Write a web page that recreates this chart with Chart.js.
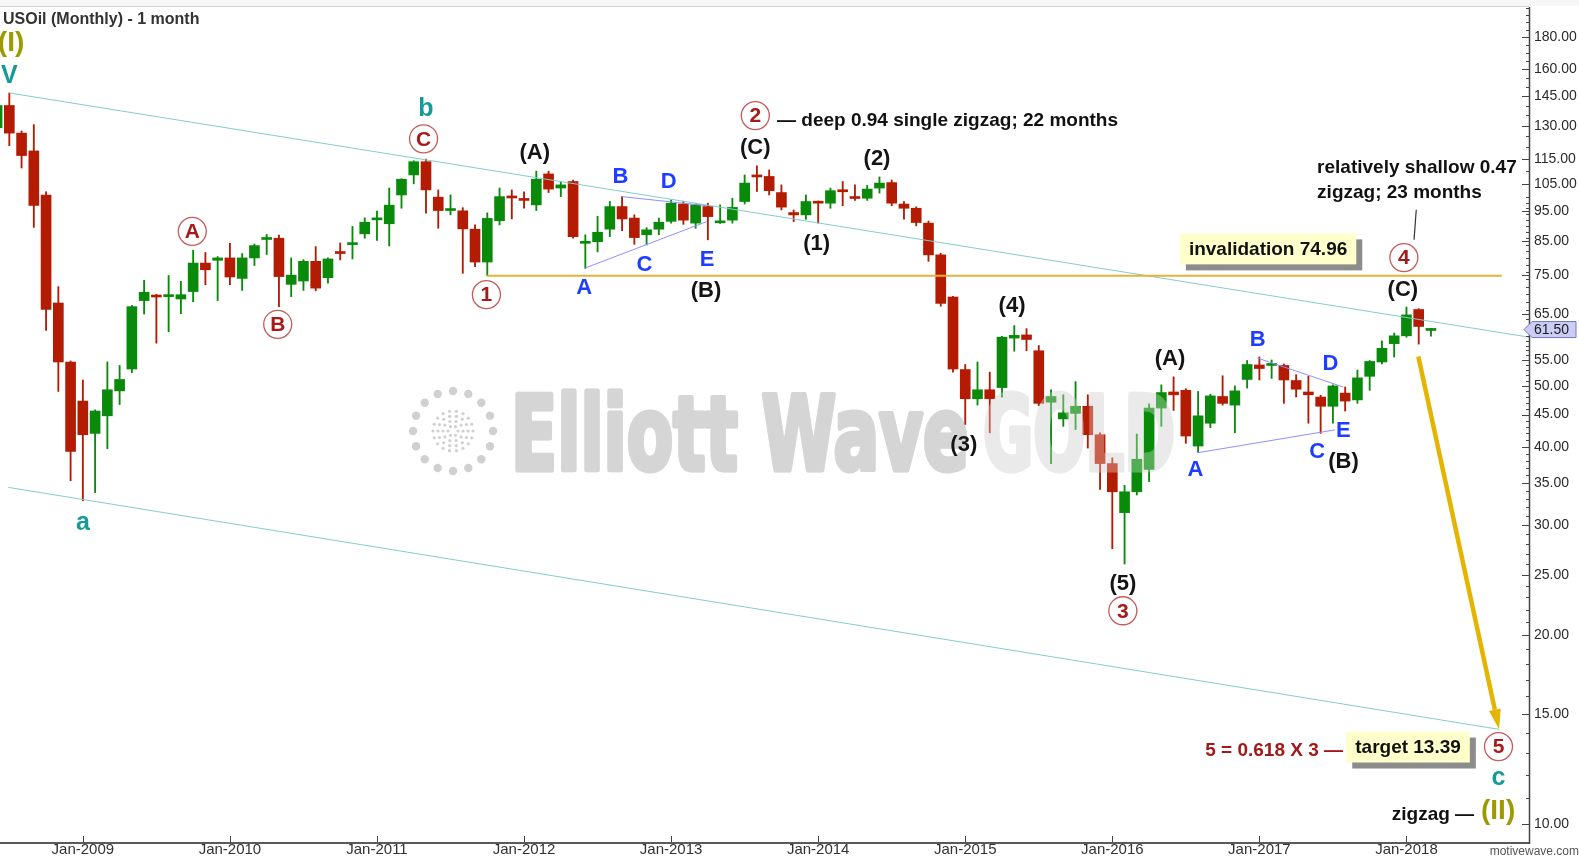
<!DOCTYPE html>
<html>
<head>
<meta charset="utf-8">
<script src="https://cdn.jsdelivr.net/npm/chart.js"></script>
<style>
html,body{margin:0;padding:0;background:#fff;overflow:hidden}
canvas{display:block}
</style>
</head>
<body>
<canvas id="c" width="1579" height="859"></canvas>
<script>
// ---------------- DATA ----------------
// month index = months since Jan 2008 ; first candle = Jun 2008
const firstMonth = 5;
const opens = [
  129,140,126.5,118.5,100.8,67.8,54.6,
  47.3,42,44.8,49.1,53.2,68.4,69.7,69.4,68.8,70.7,78.5,79.3,
  80.0,74.2,80.0,85.6,86,72.6,73.5,79,74.4,81.7,84,87.4,
  92,90.7,100.8,108.5,113.9,100,95.2,95.1,88.9,78.8,91.7,100.3,
  99.4,97.2,108.9,103.4,105.9,84.4,84.9,88.9,96.6,92.6,87.1,88.9,
  91.5,97.5,90.9,96.6,91,91.9,98.4,108.2,107.9,101.7,94.5,93.7,
  98.4,97.8,102.4,99.9,99.6,103.4,105.5,97.5,96,90.9,80.9,69.3,
  53.1,47.7,49.3,49.7,59.6,60.3,56.9,47.1,44.3,45.2,46.4,41.8,
  37.6,31.4,33.9,36.8,46.1,48.9,49.2,40.1,43.6,48.1,46.6,51.2,
  54,53.9,53.9,51,48.9,48,46.4,48.7,47.5,51.8,54.6,58.4,
  60.1,66.2,61.3
];
const highs = [
  141,146.6,127.5,130.5,102,72,54.8,
  51.1,45.8,54.6,53.9,67.2,73.7,70,75,73.4,82.3,81.6,80.4,
  84.4,81.3,84.2,87.2,87,80,79.5,83.4,80,84.5,89.8,92.7,
  95,103.4,107,114.3,115,102.7,100.8,96.2,90.3,94.4,103.4,102.7,
  102,110,110,105.6,106.5,87.1,93.2,98.4,100.2,93.7,89.4,92.6,
  99,98.5,97.6,97.8,97.2,99.6,108.5,112.2,110.5,104.6,95.4,100.8,
  98.6,103.4,105.9,104.6,104.4,107.7,106.5,98.4,96.5,91.6,81.4,69.5,
  54.1,54.6,52.6,60,62.4,61.7,58,49.3,48.4,50.8,48.4,42.1,
  38.4,34.7,41.9,46.8,50.2,51.7,49.5,49,48.5,51.9,50,54.9,
  55.6,55,54.2,52.1,51.8,48.3,50.2,49.8,53,54.9,59,60.7,
  66.8,66.4,61.7
];
const lows = [
  126,120.8,111.3,89.5,61.3,49,35.3,
  32.8,33.8,39.7,46.7,52.5,65.1,58.5,61,65.2,68.1,72.5,68.4,
  72.5,71,77.8,81,66.9,69.4,71,70.9,72.9,79.4,79.7,86,
  85.3,83.6,96,105,94.3,89.2,93.7,75.6,77.5,74.96,90.3,92.3,
  96,95.2,101.7,100.2,86,77,81.8,86.5,88.4,84.1,83.9,87.1,
  90.9,90.5,89.2,85.5,90.8,90.9,97.5,102.1,100.8,95.4,91.4,92.2,
  90.9,96,96.9,98.8,98.8,101.5,96.9,92.2,90,79,67,52.6,
  43.4,46.6,42.1,48,56.8,56.9,46.5,37.6,43.1,42.6,39.8,34.2,
  27.5,26,33.5,35.2,43.1,45.7,40.5,39.2,42.9,46.6,42.1,49.6,
  51.1,51.4,46.9,48,43.6,42,43.6,45.6,46.9,49.2,54.2,55.6,
  59.8,58.3,60
];
const closes = [
  140,126.5,116.5,97,66.2,54.6,39.3,
  41.8,45.6,49.3,51.2,66.9,70.5,69.3,69.9,69.9,78.5,76.6,80,
  74.6,80,83.7,86.2,74.7,75.1,79,71.6,79.7,81.3,84.5,91.2,
  92.5,97.1,106.8,113.9,102.7,95.2,95.7,89,78.8,92.5,100.2,99.7,
  98.8,106.8,103,104.6,86.5,84.8,87.9,96.6,92.3,86.2,88.7,91.2,
  97.8,91.9,97.2,93.1,91.4,96.3,105.3,107.7,102.4,96.4,93.7,98.4,
  97.8,102.4,102,99.5,103,105.3,97.8,96,91.1,80.9,67.7,53.2,
  47.7,49.3,47.7,59.8,60.2,59.3,46.9,48.1,45.3,46.4,41.8,37.6,
  33.9,33.9,38.2,46.1,48.8,48.4,41.6,44.8,48.2,46.9,49.1,54.1,
  53.3,54.3,51.1,49.4,48.4,46.4,50,47.3,51.5,54.7,57.4,60.1,
  64.9,62.2,61.5
];
const lastPrice = 61.50;
const yTickValues = [10,15,20,25,30,35,40,45,50,55,65,75,85,95,105,115,130,145,160,180];
const xTickMonths = [12,24,36,48,60,72,84,96,108,120];
const xTickLabels = ['Jan-2009','Jan-2010','Jan-2011','Jan-2012','Jan-2013','Jan-2014','Jan-2015','Jan-2016','Jan-2017','Jan-2018'];

// ---------------- ANNOTATIONS (month index, price) ----------------
const waveLabels = [
  ['(I)', 6.14, 176, 'olive'],
  ['V', 6.0, 156, 'teal'],
  ['a', 12, 30.2, 'teal'],
  ['A', 20.93, 88.2, 'circ'],
  ['B', 27.9, 62.7, 'circ'],
  ['b', 40.0, 138.4, 'teal'],
  ['C', 39.8, 123.9, 'circ'],
  ['(A)', 48.87, 117.7, 'wave'],
  ['1', 44.93, 69.9, 'circ'],
  ['B', 55.86, 107.6, 'blue'],
  ['D', 59.8, 105.7, 'blue'],
  ['A', 52.9, 71.7, 'blue'],
  ['C', 57.83, 78, 'blue'],
  ['E', 62.93, 79.5, 'blue'],
  ['(B)', 62.85, 70.9, 'wave'],
  ['(C)', 66.87, 119.8, 'wave'],
  ['2', 66.87, 134.9, 'circ'],
  ['(2)', 76.8, 115.1, 'wave'],
  ['(1)', 71.88, 84.3, 'wave'],
  ['(3)', 83.88, 40.3, 'wave'],
  ['(4)', 87.82, 67.1, 'wave'],
  ['(5)', 96.86, 24.2, 'wave'],
  ['3', 96.86, 21.9, 'circ'],
  ['(A)', 100.71, 55.3, 'wave'],
  ['A', 102.78, 36.7, 'blue'],
  ['B', 107.87, 59.3, 'blue'],
  ['D', 113.8, 54.3, 'blue'],
  ['C', 112.72, 39.3, 'blue'],
  ['E', 114.86, 42.4, 'blue'],
  ['(B)', 114.86, 37.8, 'wave'],
  ['(C)', 119.71, 71.1, 'wave'],
  ['4', 119.79, 80.1, 'circ'],
  ['5', 127.51, 13.3, 'circ'],
  ['c', 127.51, 11.84, 'teal'],
  ['(II)', 127.48, 10.5, 'olive']
];
const comments = [
  ['— deep 0.94 single zigzag; 22 months', 68.64, 132.4, 'left', 'note'],
  ['relatively shallow 0.47', 112.71, 111.4, 'left', 'note'],
  ['zigzag; 23 months', 112.71, 101.6, 'left', 'note'],
  ['zigzag —', 125.52, 10.35, 'right', 'note'],
  ['5 = 0.618 X 3 —', 114.83, 13.09, 'right', 'red']
];
const boxes = [
  ['invalidation 74.96', 108.71, 82.7],
  ['target 13.39', 120.13, 13.28]
];
const channelUpper = [[6.0, 146.6], [130.0, 59.8]];
const channelLower = [[5.92, 34.45], [127.56, 14.17]];
const invalidationLine = [[45, 74.96], [127.77, 74.96]];
const triangleLines = [
  [[52.92, 77], [62.9, 91.4]],
  [[55.97, 100.2], [62.9, 96.9]],
  [[102.89, 39.1], [114.17, 42.55]],
  [[107.83, 55.4], [114.85, 49.8]]
];
const leaderLine = [[120.8, 95.5], [120.62, 85.5]];
const targetArrow = [[120.97, 55.7], [127.56, 14.17]];

// ---------------- STYLE ----------------
const FONT = '"Liberation Sans", Arial, Helvetica, sans-serif';
const UP = '#0a8a0a', DN = '#b31c02';
const months = opens.map((_, i) => firstMonth + i);
const isUp = i => closes[i] >= opens[i];

function line(ctx, xs, ys, pts, color, width) {
  ctx.save();
  ctx.strokeStyle = color; ctx.lineWidth = width;
  ctx.beginPath();
  pts.forEach((p, k) => {
    const x = xs.getPixelForValue(p[0]), y = ys.getPixelForValue(p[1]);
    if (k === 0) ctx.moveTo(x, y); else ctx.lineTo(x, y);
  });
  ctx.stroke();
  ctx.restore();
}

function drawWatermark(ctx, cText, cGold, cDots) {
  ctx.save();
  ctx.textBaseline = 'alphabetic'; ctx.textAlign = 'left';
  ctx.font = 'bold 104px "DejaVu Sans Condensed", "DejaVu Sans", sans-serif';
  ctx.lineJoin = 'round';
  const w1 = ctx.measureText('Elliott Wave').width;
  ctx.save(); ctx.translate(511, 470); ctx.scale(458 / w1, 1);
  ctx.fillStyle = cText; ctx.strokeStyle = cText; ctx.lineWidth = 5;
  ctx.fillText('Elliott Wave', 0, 0); ctx.strokeText('Elliott Wave', 0, 0); ctx.restore();
  const w2 = ctx.measureText('GOLD').width;
  ctx.save(); ctx.translate(983, 470); ctx.scale(192 / w2, 1);
  ctx.fillStyle = cGold; ctx.strokeStyle = cGold; ctx.lineWidth = 5;
  ctx.fillText('GOLD', 0, 0); ctx.strokeText('GOLD', 0, 0); ctx.restore();
  if (cDots) {
    const cx = 453, cy = 431;
    ctx.fillStyle = cDots;
    for (let k = 0; k < 16; k++) {
      const a = k * Math.PI * 2 / 16;
      ctx.beginPath(); ctx.arc(cx + 40 * Math.cos(a), cy + 40 * Math.sin(a), 4.2, 0, Math.PI * 2); ctx.fill();
    }
    [[5, 6], [10, 10], [15, 14], [20, 18]].forEach(([r, n]) => {
      for (let k = 0; k < n; k++) {
        const a = k * Math.PI * 2 / n;
        ctx.beginPath(); ctx.arc(cx + r * Math.cos(a), cy + r * Math.sin(a), 1.6, 0, Math.PI * 2); ctx.fill();
      }
    });
  }
  ctx.restore();
}

// offscreen white mask of the watermark, composited over the candles
const wmMask = document.createElement('canvas');
wmMask.width = 1579; wmMask.height = 859;
drawWatermark(wmMask.getContext('2d'), '#ffffff', '#ffffff', null);

const overlay = {
  id: 'overlay',
  beforeDraw(chart) {
    const ctx = chart.ctx;
    ctx.save();
    ctx.fillStyle = '#ffffff'; ctx.fillRect(0, 0, chart.width, chart.height);
    ctx.fillStyle = '#f7f7f7'; ctx.fillRect(0, 0, chart.width, 6);
    ctx.fillStyle = '#d2d2d2'; ctx.fillRect(0, 6, chart.chartArea.right, 1);
    ctx.restore();
  },
  beforeDatasetsDraw(chart) {
    const ctx = chart.ctx, ca = chart.chartArea;
    ctx.save();
    ctx.beginPath(); ctx.rect(ca.left, ca.top, ca.right - ca.left, ca.bottom - ca.top); ctx.clip();
    drawWatermark(ctx, '#c4c4c4', '#e1e1e1', '#d0d0d0');
    ctx.restore();
  },
  afterDatasetsDraw(chart) {
    const ctx = chart.ctx, ca = chart.chartArea;
    const xs = chart.scales.x, ys = chart.scales.y;
    ctx.save();
    ctx.beginPath(); ctx.rect(ca.left, ca.top, ca.right - ca.left, ca.bottom - ca.top); ctx.clip();
    ctx.save(); ctx.globalAlpha = 0.3; ctx.drawImage(wmMask, 0, 0); ctx.restore();

    // lines
    line(ctx, xs, ys, channelUpper, '#86cccc', 1);
    line(ctx, xs, ys, channelLower, '#86cccc', 1);
    line(ctx, xs, ys, invalidationLine, '#e2b23a', 2);
    triangleLines.forEach(t => line(ctx, xs, ys, t, '#8f8fff', 1));
    line(ctx, xs, ys, leaderLine, '#333333', 1.2);

    // target arrow
    const ax1 = xs.getPixelForValue(targetArrow[0][0]), ay1 = ys.getPixelForValue(targetArrow[0][1]);
    const ax2 = xs.getPixelForValue(targetArrow[1][0]), ay2 = ys.getPixelForValue(targetArrow[1][1]);
    const ang = Math.atan2(ay2 - ay1, ax2 - ax1);
    const hl = 20, hw = 6;
    const bx = ax2 - hl * Math.cos(ang), by = ay2 - hl * Math.sin(ang);
    ctx.strokeStyle = '#e3b400'; ctx.lineWidth = 4.5;
    ctx.beginPath(); ctx.moveTo(ax1, ay1); ctx.lineTo(bx, by); ctx.stroke();
    ctx.fillStyle = '#e3b400';
    ctx.beginPath();
    ctx.moveTo(ax2, ay2);
    ctx.lineTo(bx + hw * Math.sin(ang), by - hw * Math.cos(ang));
    ctx.lineTo(bx - hw * Math.sin(ang), by + hw * Math.cos(ang));
    ctx.closePath(); ctx.fill();

    // boxes
    boxes.forEach(([s, m, p]) => {
      const cx = xs.getPixelForValue(m), cy = ys.getPixelForValue(p);
      ctx.font = 'bold 19px ' + FONT;
      const w = ctx.measureText(s).width + 18, h = 31;
      const x0 = cx - w / 2, y0 = cy - h / 2;
      ctx.fillStyle = '#8c8c8c'; ctx.fillRect(x0 + 6, y0 + 6, w, h);
      ctx.fillStyle = '#ffffcc'; ctx.fillRect(x0, y0, w, h);
      ctx.fillStyle = '#111'; ctx.textAlign = 'center'; ctx.textBaseline = 'middle';
      ctx.fillText(s, cx, cy + 1);
    });

    // comments
    comments.forEach(([s, m, p, align, kind]) => {
      ctx.font = 'bold 19px ' + FONT;
      ctx.fillStyle = kind === 'red' ? '#a31818' : '#111111';
      ctx.textAlign = align; ctx.textBaseline = 'middle';
      ctx.fillText(s, xs.getPixelForValue(m), ys.getPixelForValue(p));
    });

    // wave labels
    waveLabels.forEach(([s, m, p, kind]) => {
      const x = xs.getPixelForValue(m), y = ys.getPixelForValue(p);
      ctx.textAlign = 'center'; ctx.textBaseline = 'middle';
      if (kind === 'circ') {
        ctx.beginPath(); ctx.arc(x, y, 14, 0, Math.PI * 2);
        ctx.fillStyle = '#ffffff'; ctx.fill();
        ctx.lineWidth = 1.3; ctx.strokeStyle = '#c75a5a'; ctx.stroke();
        ctx.font = 'bold 21px ' + FONT; ctx.fillStyle = '#a61a1a';
        ctx.fillText(s, x, y + 1);
      } else if (kind === 'teal') {
        ctx.font = 'bold 25px ' + FONT; ctx.fillStyle = '#139a9a';
        ctx.fillText(s, x, y);
      } else if (kind === 'olive') {
        ctx.font = 'bold 28px ' + FONT; ctx.fillStyle = '#9d9a00';
        ctx.fillText(s, x, y);
      } else if (kind === 'blue') {
        ctx.font = 'bold 22px ' + FONT; ctx.fillStyle = '#1f3dff';
        ctx.fillText(s, x, y);
      } else {
        ctx.font = 'bold 22px ' + FONT; ctx.fillStyle = '#141414';
        ctx.fillText(s, x, y);
      }
    });
    ctx.restore();
  },
  afterDraw(chart) {
    const ctx = chart.ctx, ca = chart.chartArea;
    const xs = chart.scales.x, ys = chart.scales.y;
    ctx.save();
    // x axis
    ctx.strokeStyle = '#5a5a5a'; ctx.lineWidth = 2;
    ctx.beginPath(); ctx.moveTo(0, ca.bottom + 1); ctx.lineTo(ca.right + 1, ca.bottom + 1); ctx.stroke();
    ctx.lineWidth = 1; ctx.strokeStyle = '#444';
    xTickMonths.forEach(m => {
      const x = Math.round(xs.getPixelForValue(m)) + 0.5;
      ctx.beginPath(); ctx.moveTo(x, ca.bottom - 6); ctx.lineTo(x, ca.bottom); ctx.stroke();
    });
    // y axis
    ctx.strokeStyle = '#444'; ctx.lineWidth = 1.5;
    ctx.beginPath(); ctx.moveTo(ca.right + 0.5, ca.top); ctx.lineTo(ca.right + 0.5, ca.bottom + 2); ctx.stroke();
    ctx.lineWidth = 1;
    const minor = [];
    for (let v = 11; v < 60; v += 1) minor.push(v);
    for (let v = 60; v < 100; v += 2) minor.push(v);
    for (let v = 100; v <= 200; v += 5) minor.push(v);
    minor.forEach(v => {
      const y = Math.round(ys.getPixelForValue(v)) + 0.5;
      if (y < ca.top || y > ca.bottom) return;
      ctx.beginPath(); ctx.moveTo(ca.right - 3, y); ctx.lineTo(ca.right, y); ctx.stroke();
    });
    yTickValues.forEach(v => {
      const y = Math.round(ys.getPixelForValue(v)) + 0.5;
      ctx.beginPath(); ctx.moveTo(ca.right - 7, y); ctx.lineTo(ca.right, y); ctx.stroke();
    });
    // last price tag
    const py = ys.getPixelForValue(lastPrice);
    ctx.beginPath();
    ctx.moveTo(ca.right - 5, py);
    ctx.lineTo(ca.right + 3, py - 8);
    ctx.lineTo(1576, py - 8);
    ctx.lineTo(1576, py + 8);
    ctx.lineTo(ca.right + 3, py + 8);
    ctx.closePath();
    ctx.fillStyle = '#cbcdf5'; ctx.fill();
    ctx.strokeStyle = '#7478b8'; ctx.stroke();
    ctx.fillStyle = '#1a1a1a'; ctx.font = '14px ' + FONT;
    ctx.textAlign = 'left'; ctx.textBaseline = 'middle';
    ctx.fillText(lastPrice.toFixed(2), ca.right + 5, py + 1);
    // title
    ctx.font = 'bold 16px ' + FONT; ctx.fillStyle = '#333';
    ctx.fillText('USOil (Monthly) - 1 month', 3, 20);
    // credit
    ctx.font = '12px ' + FONT; ctx.fillStyle = '#555'; ctx.textAlign = 'right';
    ctx.fillText('motivewave.com', 1579, 852);
    ctx.restore();
  }
};

new Chart(document.getElementById('c').getContext('2d'), {
  type: 'bar',
  data: {
    datasets: [
      {
        label: 'wicks',
        data: months.map((m, i) => ({ x: m, y: [lows[i], highs[i]] })),
        backgroundColor: c => isUp(c.dataIndex) ? UP : DN,
        barThickness: 1.2, grouped: false, order: 2, borderWidth: 0
      },
      {
        label: 'bodies',
        data: months.map((m, i) => ({ x: m, y: [opens[i], closes[i]] })),
        backgroundColor: c => isUp(c.dataIndex) ? UP : DN,
        barThickness: 10, grouped: false, order: 1, borderWidth: 0, minBarLength: 2
      }
    ]
  },
  options: {
    responsive: false, animation: false, devicePixelRatio: 1,
    layout: { padding: { top: 7, left: 0, right: 0, bottom: 0 } },
    plugins: { legend: { display: false }, tooltip: { enabled: false } },
    scales: {
      x: {
        type: 'linear', min: 5.24, max: 130.0, offset: false, bounds: 'data',
        afterBuildTicks: s => { s.ticks = xTickMonths.map(v => ({ value: v })); },
        ticks: {
          autoSkip: false, maxRotation: 0, minRotation: 0, padding: -1, color: '#333',
          font: { family: FONT, size: 15 },
          callback: (v, i) => xTickLabels[i]
        },
        grid: { display: false, drawTicks: false, tickLength: 0 }, border: { display: false },
        afterFit: s => { s.height = 17; s.paddingLeft = 0; s.paddingRight = 0; }
      },
      y: {
        type: 'logarithmic', position: 'right', min: 9.37, max: 201, bounds: 'data',
        afterBuildTicks: s => { s.ticks = yTickValues.map(v => ({ value: v })); },
        ticks: {
          autoSkip: false, padding: 5, color: '#2a2a2a',
          font: { family: FONT, size: 14 },
          callback: v => Number(v).toFixed(2)
        },
        grid: { display: false, drawTicks: false, tickLength: 0 }, border: { display: false },
        afterFit: s => { s.width = 50; s.paddingTop = 0; s.paddingBottom = 0; }
      }
    }
  },
  plugins: [overlay]
});
</script>
</body>
</html>
